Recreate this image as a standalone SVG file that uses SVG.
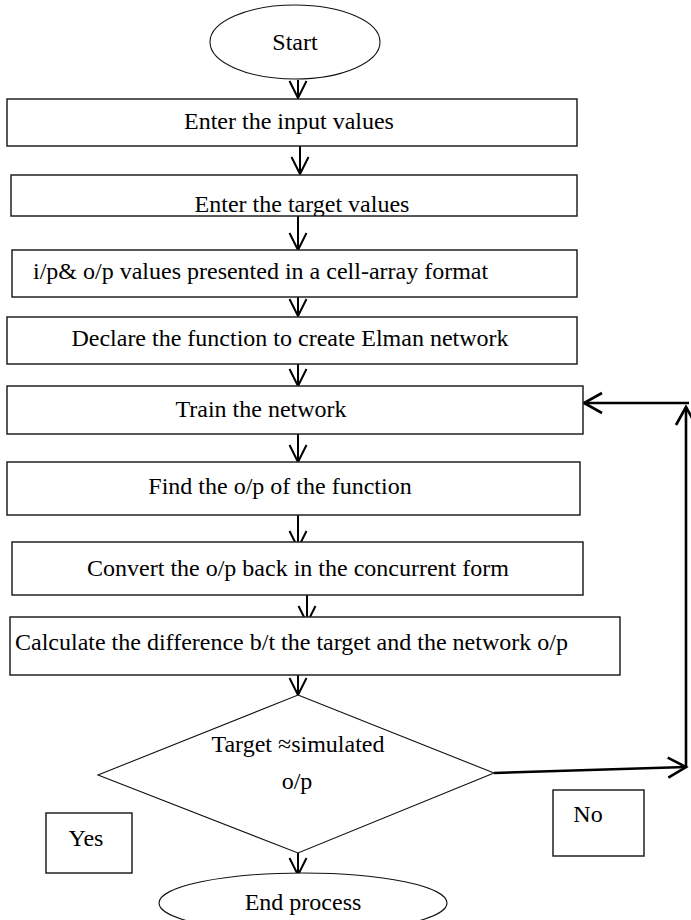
<svg xmlns="http://www.w3.org/2000/svg" width="691" height="920" viewBox="0 0 691 920">
<style>
.bx{fill:#fff;stroke:#222;stroke-width:1.5}
.sh{fill:#fff;stroke:#111;stroke-width:1.1}
.t{font-family:"Liberation Serif","Times New Roman",serif;font-size:24px;fill:#000}
.c{text-anchor:middle}
.ln{fill:none;stroke:#000;stroke-width:2}
.fb{fill:none;stroke:#000;stroke-width:2.6}
</style>
<defs>
<marker id="v" markerUnits="userSpaceOnUse" markerWidth="24" markerHeight="24" viewBox="-20 -12 24 24" refX="0" refY="0" orient="auto">
<path d="M-17,-8.5 L0,0 L-17,8.5" fill="none" stroke="#000" stroke-width="2"/>
</marker>
<marker id="vb" markerUnits="userSpaceOnUse" markerWidth="26" markerHeight="26" viewBox="-22 -13 26 26" refX="0" refY="0" orient="auto">
<path d="M-18,-10 L0,0 L-18,10" fill="none" stroke="#000" stroke-width="2.6"/>
</marker>
<clipPath id="c2"><rect x="11" y="175" width="566" height="41"/></clipPath>
</defs>

<g id="connectors">
<line class="ln" x1="298" y1="80" x2="298" y2="98" marker-end="url(#v)"/>
<line class="ln" x1="300" y1="146" x2="300" y2="174" marker-end="url(#v)"/>
<line class="ln" x1="298" y1="216" x2="298" y2="250" marker-end="url(#v)"/>
<line class="ln" x1="298" y1="297" x2="298" y2="316" marker-end="url(#v)"/>
<line class="ln" x1="298" y1="364" x2="298" y2="386" marker-end="url(#v)"/>
<line class="ln" x1="298" y1="434" x2="298" y2="462" marker-end="url(#v)"/>
<line class="ln" x1="298" y1="515" x2="298" y2="548" marker-end="url(#v)"/>
<line class="ln" x1="307" y1="595" x2="307" y2="623" marker-end="url(#v)"/>
<line class="ln" x1="298" y1="675" x2="298" y2="695" marker-end="url(#v)"/>
<line class="ln" x1="298" y1="853" x2="298" y2="875" marker-end="url(#v)"/>
<line class="fb" x1="494" y1="773" x2="686" y2="767" marker-end="url(#vb)"/>
<line class="fb" x1="686" y1="767" x2="686" y2="407" marker-end="url(#vb)"/>
<line class="fb" x1="689" y1="403" x2="584" y2="403" marker-end="url(#vb)"/>
</g>

<g id="start">
<ellipse class="sh" cx="295" cy="42" rx="85" ry="37"/>
<text class="t c" x="295" y="50">Start</text>
</g>
<g id="input">
<rect class="bx" x="7" y="99" width="570" height="47"/>
<text class="t c" x="289" y="129">Enter the input values</text>
</g>
<g id="target">
<rect class="bx" x="11" y="175" width="566" height="41"/>
<text class="t c" x="302" y="212" clip-path="url(#c2)">Enter the target values</text>
</g>
<g id="cellarray">
<rect class="bx" x="12" y="250" width="565" height="47"/>
<text class="t" x="33" y="279">i/p&amp; o/p values presented in a cell-array format</text>
</g>
<g id="declare">
<rect class="bx" x="7" y="317" width="570" height="47"/>
<text class="t c" x="290" y="346">Declare the function to create Elman network</text>
</g>
<g id="train">
<rect class="bx" x="7" y="386" width="576" height="48"/>
<text class="t c" x="261" y="417">Train the network</text>
</g>
<g id="find">
<rect class="bx" x="7" y="462" width="573" height="53"/>
<text class="t c" x="280" y="494">Find the o/p of the function</text>
</g>
<g id="convert">
<rect class="bx" x="12" y="542" width="571" height="53"/>
<text class="t c" x="298" y="576">Convert the o/p back in the concurrent form</text>
</g>
<g id="calculate">
<rect class="bx" x="10" y="617" width="610" height="58"/>
<text class="t" x="15" y="650">Calculate the difference b/t the target and the network o/p</text>
</g>
<g id="decision">
<polygon class="sh" points="298,695 494,773 298,853 98,775"/>
<text class="t c" x="298" y="752">Target ≈simulated</text>
<text class="t c" x="297" y="789">o/p</text>
</g>
<g id="yes">
<rect class="bx" x="46" y="813" width="86" height="60"/>
<text class="t c" x="86" y="846">Yes</text>
</g>
<g id="no">
<rect class="bx" x="553" y="790" width="91" height="66"/>
<text class="t c" x="588" y="822">No</text>
</g>
<g id="end">
<ellipse class="sh" cx="303" cy="903" rx="144" ry="30"/>
<text class="t c" x="303" y="910">End process</text>
</g>
</svg>
